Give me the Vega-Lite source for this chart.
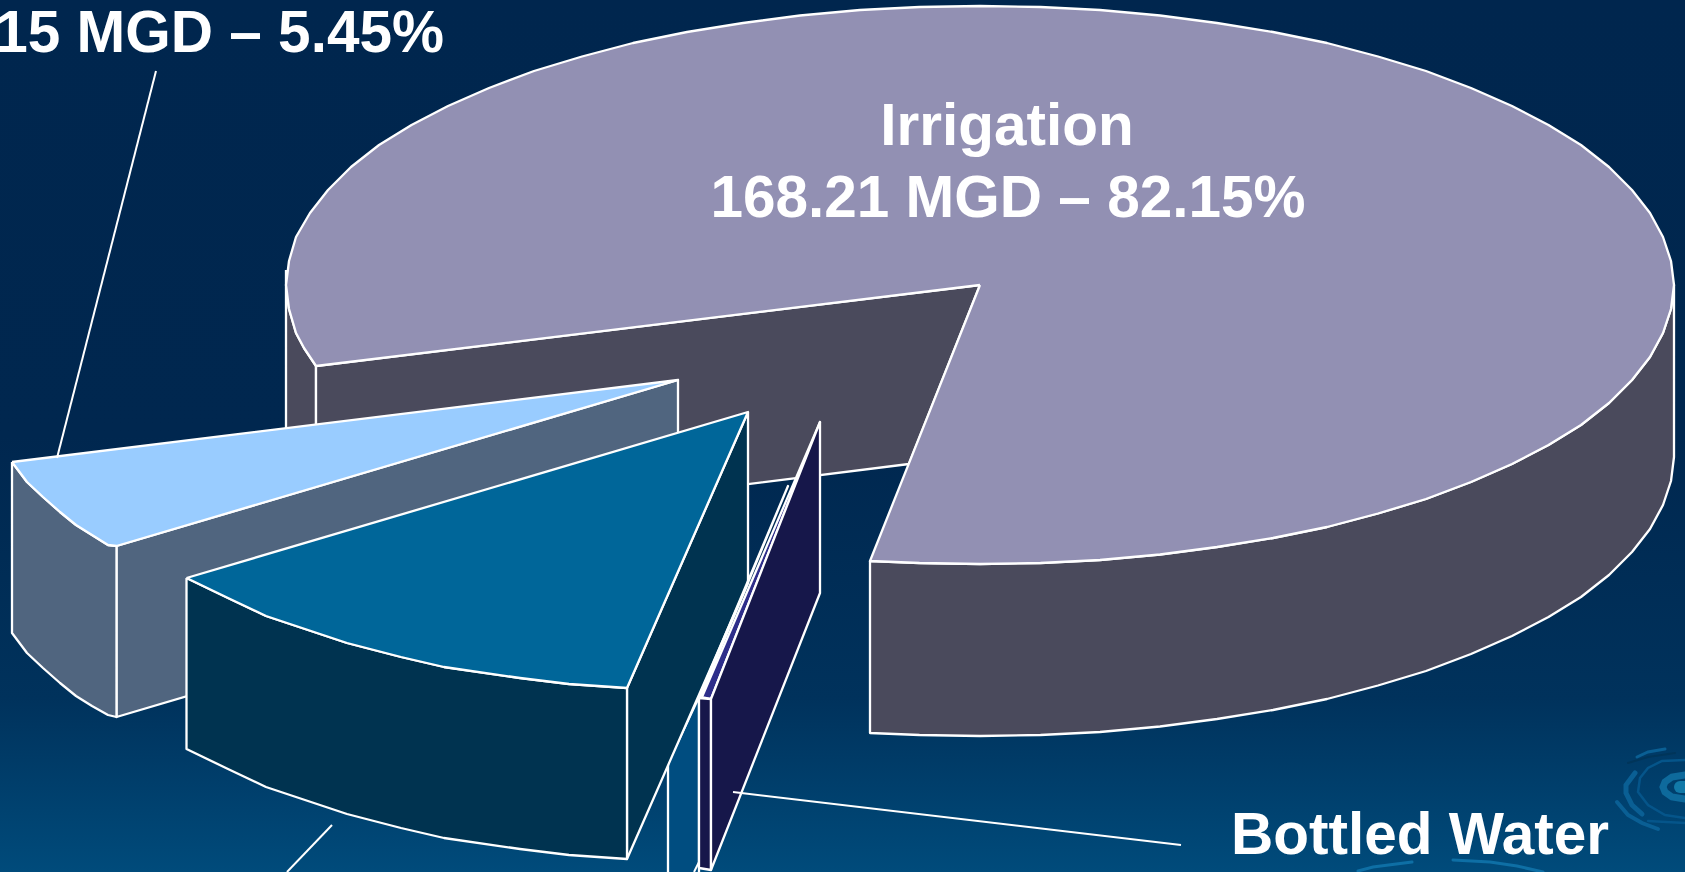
{"$schema":"https://vega.github.io/schema/vega-lite/v6.json","width":1685,"height":872,"padding":0,"autosize":{"type":"none"},"background":"#00264e","view":{"stroke":null},
"datasets":{
"bg":[{"x":0,"x2":1685,"y":0,"y2":872}],
"faces":[
{"part":"irrOuter","i":1,"x":870,"y":561},{"part":"irrOuter","i":1.5,"x":919.5,"y":563},{"part":"irrOuter","i":2,"x":980,"y":564},{"part":"irrOuter","i":2.5,"x":1040.5,"y":563},{"part":"irrOuter","i":3,"x":1100,"y":560},{"part":"irrOuter","i":3.5,"x":1160,"y":554.5},{"part":"irrOuter","i":4,"x":1217,"y":547},{"part":"irrOuter","i":4.5,"x":1273,"y":538},{"part":"irrOuter","i":5,"x":1327,"y":527},{"part":"irrOuter","i":5.5,"x":1378,"y":513.5},{"part":"irrOuter","i":6,"x":1426,"y":499},{"part":"irrOuter","i":6.5,"x":1471,"y":482},{"part":"irrOuter","i":7,"x":1512,"y":464},{"part":"irrOuter","i":7.5,"x":1548.5,"y":445},{"part":"irrOuter","i":8,"x":1581,"y":425},{"part":"irrOuter","i":8.5,"x":1609,"y":403},{"part":"irrOuter","i":9,"x":1632,"y":380},{"part":"irrOuter","i":9.5,"x":1650,"y":357},{"part":"irrOuter","i":10,"x":1663,"y":333},{"part":"irrOuter","i":10.5,"x":1671,"y":309},{"part":"irrOuter","i":11,"x":1674,"y":285},{"part":"irrOuter","i":12,"x":1674,"y":457},{"part":"irrOuter","i":12.5,"x":1671,"y":481},{"part":"irrOuter","i":13,"x":1663,"y":505},{"part":"irrOuter","i":13.5,"x":1650,"y":529},{"part":"irrOuter","i":14,"x":1632,"y":552},{"part":"irrOuter","i":14.5,"x":1609,"y":575},{"part":"irrOuter","i":15,"x":1581,"y":597},{"part":"irrOuter","i":15.5,"x":1548.5,"y":617},{"part":"irrOuter","i":16,"x":1512,"y":636},{"part":"irrOuter","i":16.5,"x":1471,"y":654},{"part":"irrOuter","i":17,"x":1426,"y":671},{"part":"irrOuter","i":17.5,"x":1378,"y":685.5},{"part":"irrOuter","i":18,"x":1327,"y":699},{"part":"irrOuter","i":18.5,"x":1273,"y":710},{"part":"irrOuter","i":19,"x":1217,"y":719},{"part":"irrOuter","i":19.5,"x":1160,"y":726.5},{"part":"irrOuter","i":20,"x":1100,"y":732},{"part":"irrOuter","i":20.5,"x":1040.5,"y":735},{"part":"irrOuter","i":21,"x":980,"y":736},{"part":"irrOuter","i":21.5,"x":919.5,"y":735},{"part":"irrOuter","i":22,"x":870,"y":733},{"part":"irrOuter","i":23,"x":870,"y":561},
{"part":"irrLeft","i":1,"x":286,"y":270},{"part":"irrLeft","i":2,"x":286,"y":285},{"part":"irrLeft","i":2.5,"x":289,"y":309},{"part":"irrLeft","i":3,"x":296,"y":333},{"part":"irrLeft","i":3.5,"x":304,"y":348},{"part":"irrLeft","i":4,"x":316,"y":366},{"part":"irrLeft","i":5,"x":316,"y":538},{"part":"irrLeft","i":6,"x":296,"y":505},{"part":"irrLeft","i":7,"x":286,"y":457},{"part":"irrLeft","i":8,"x":286,"y":270},
{"part":"irrCut","i":1,"x":316,"y":366},{"part":"irrCut","i":2,"x":980,"y":285},{"part":"irrCut","i":3,"x":909,"y":464},{"part":"irrCut","i":4,"x":316,"y":538},{"part":"irrCut","i":5,"x":316,"y":366},
{"part":"irrTop","i":1,"x":980,"y":285},{"part":"irrTop","i":2,"x":870,"y":561},{"part":"irrTop","i":2.5,"x":919.5,"y":563},{"part":"irrTop","i":3,"x":980,"y":564},{"part":"irrTop","i":3.5,"x":1040.5,"y":563},{"part":"irrTop","i":4,"x":1100,"y":560},{"part":"irrTop","i":4.5,"x":1160,"y":554.5},{"part":"irrTop","i":5,"x":1217,"y":547},{"part":"irrTop","i":5.5,"x":1273,"y":538},{"part":"irrTop","i":6,"x":1327,"y":527},{"part":"irrTop","i":6.5,"x":1378,"y":513.5},{"part":"irrTop","i":7,"x":1426,"y":499},{"part":"irrTop","i":7.5,"x":1471,"y":482},{"part":"irrTop","i":8,"x":1512,"y":464},{"part":"irrTop","i":8.5,"x":1548.5,"y":445},{"part":"irrTop","i":9,"x":1581,"y":425},{"part":"irrTop","i":9.5,"x":1609,"y":403},{"part":"irrTop","i":10,"x":1632,"y":380},{"part":"irrTop","i":10.5,"x":1650,"y":357},{"part":"irrTop","i":11,"x":1663,"y":333},{"part":"irrTop","i":11.5,"x":1671,"y":309},{"part":"irrTop","i":12,"x":1674,"y":285},{"part":"irrTop","i":12.5,"x":1671,"y":261},{"part":"irrTop","i":13,"x":1663,"y":237},{"part":"irrTop","i":13.5,"x":1650,"y":213},{"part":"irrTop","i":14,"x":1632,"y":190},{"part":"irrTop","i":14.5,"x":1609,"y":167},{"part":"irrTop","i":15,"x":1581,"y":145},{"part":"irrTop","i":15.5,"x":1548.5,"y":125},{"part":"irrTop","i":16,"x":1512,"y":106},{"part":"irrTop","i":16.5,"x":1471,"y":88},{"part":"irrTop","i":17,"x":1426,"y":71},{"part":"irrTop","i":17.5,"x":1378,"y":56.5},{"part":"irrTop","i":18,"x":1327,"y":43},{"part":"irrTop","i":18.5,"x":1273,"y":32},{"part":"irrTop","i":19,"x":1217,"y":23},{"part":"irrTop","i":19.5,"x":1160,"y":15.5},{"part":"irrTop","i":20,"x":1100,"y":10},{"part":"irrTop","i":20.5,"x":1040.5,"y":7},{"part":"irrTop","i":21,"x":980,"y":6},{"part":"irrTop","i":21.5,"x":919.5,"y":7},{"part":"irrTop","i":22,"x":860,"y":10},{"part":"irrTop","i":22.5,"x":800,"y":15.5},{"part":"irrTop","i":23,"x":743,"y":23},{"part":"irrTop","i":23.5,"x":687,"y":32},{"part":"irrTop","i":24,"x":633,"y":43},{"part":"irrTop","i":24.5,"x":582,"y":56.5},{"part":"irrTop","i":25,"x":534,"y":71},{"part":"irrTop","i":25.5,"x":489,"y":88},{"part":"irrTop","i":26,"x":448,"y":106},{"part":"irrTop","i":26.5,"x":411.5,"y":125},{"part":"irrTop","i":27,"x":379,"y":145},{"part":"irrTop","i":27.5,"x":351,"y":167},{"part":"irrTop","i":28,"x":328,"y":190},{"part":"irrTop","i":28.5,"x":310,"y":213},{"part":"irrTop","i":29,"x":296,"y":237},{"part":"irrTop","i":29.5,"x":289,"y":261},{"part":"irrTop","i":30,"x":286,"y":285},{"part":"irrTop","i":30.5,"x":289,"y":309},{"part":"irrTop","i":31,"x":296,"y":333},{"part":"irrTop","i":31.5,"x":304,"y":348},{"part":"irrTop","i":32,"x":316,"y":366},{"part":"irrTop","i":33,"x":980,"y":285},
{"part":"lightCut","i":1,"x":116.5,"y":546},{"part":"lightCut","i":2,"x":678,"y":380},{"part":"lightCut","i":3,"x":678,"y":551},{"part":"lightCut","i":4,"x":116.5,"y":717},{"part":"lightCut","i":5,"x":116.5,"y":546},
{"part":"lightArc","i":1,"x":12,"y":462},{"part":"lightArc","i":2,"x":27,"y":482},{"part":"lightArc","i":3,"x":43,"y":497},{"part":"lightArc","i":4,"x":60,"y":512},{"part":"lightArc","i":5,"x":76,"y":525},{"part":"lightArc","i":6,"x":92,"y":535},{"part":"lightArc","i":7,"x":108,"y":545},{"part":"lightArc","i":8,"x":116.5,"y":546},{"part":"lightArc","i":9,"x":116.5,"y":717},{"part":"lightArc","i":10,"x":108,"y":715},{"part":"lightArc","i":11,"x":92,"y":706},{"part":"lightArc","i":12,"x":76,"y":696},{"part":"lightArc","i":13,"x":60,"y":683},{"part":"lightArc","i":14,"x":43,"y":668},{"part":"lightArc","i":15,"x":27,"y":653},{"part":"lightArc","i":16,"x":12,"y":633},{"part":"lightArc","i":17,"x":12,"y":462},
{"part":"lightTop","i":1,"x":12,"y":462},{"part":"lightTop","i":2,"x":678,"y":380},{"part":"lightTop","i":3,"x":116.5,"y":546},{"part":"lightTop","i":4,"x":108,"y":545},{"part":"lightTop","i":5,"x":92,"y":535},{"part":"lightTop","i":6,"x":76,"y":525},{"part":"lightTop","i":7,"x":60,"y":512},{"part":"lightTop","i":8,"x":43,"y":497},{"part":"lightTop","i":9,"x":27,"y":482},{"part":"lightTop","i":10,"x":12,"y":462},
{"part":"strip","i":1,"x":668,"y":763},{"part":"strip","i":2,"x":699,"y":697},{"part":"strip","i":3,"x":699,"y":880},{"part":"strip","i":4,"x":668,"y":880},{"part":"strip","i":5,"x":668,"y":763},
{"part":"tealCut","i":1,"x":748,"y":412},{"part":"tealCut","i":2,"x":748,"y":583},{"part":"tealCut","i":3,"x":627,"y":859},{"part":"tealCut","i":4,"x":627,"y":688},{"part":"tealCut","i":5,"x":748,"y":412},
{"part":"tealArc","i":1,"x":186.5,"y":578},{"part":"tealArc","i":2,"x":228,"y":598},{"part":"tealArc","i":3,"x":266,"y":616},{"part":"tealArc","i":4,"x":293,"y":625},{"part":"tealArc","i":5,"x":347,"y":643},{"part":"tealArc","i":6,"x":401,"y":657},{"part":"tealArc","i":7,"x":444,"y":667},{"part":"tealArc","i":8,"x":520,"y":678},{"part":"tealArc","i":9,"x":569,"y":684},{"part":"tealArc","i":10,"x":627,"y":688},{"part":"tealArc","i":11,"x":627,"y":859},{"part":"tealArc","i":12,"x":569,"y":855},{"part":"tealArc","i":13,"x":520,"y":849},{"part":"tealArc","i":14,"x":444,"y":838},{"part":"tealArc","i":15,"x":401,"y":828},{"part":"tealArc","i":16,"x":347,"y":814},{"part":"tealArc","i":17,"x":293,"y":796},{"part":"tealArc","i":18,"x":266,"y":787},{"part":"tealArc","i":19,"x":228,"y":769},{"part":"tealArc","i":20,"x":186.5,"y":749},{"part":"tealArc","i":21,"x":186.5,"y":578},
{"part":"tealTop","i":1,"x":186.5,"y":578},{"part":"tealTop","i":2,"x":748,"y":412},{"part":"tealTop","i":3,"x":627,"y":688},{"part":"tealTop","i":4,"x":569,"y":684},{"part":"tealTop","i":5,"x":520,"y":678},{"part":"tealTop","i":6,"x":444,"y":667},{"part":"tealTop","i":7,"x":401,"y":657},{"part":"tealTop","i":8,"x":347,"y":643},{"part":"tealTop","i":9,"x":293,"y":625},{"part":"tealTop","i":10,"x":266,"y":616},{"part":"tealTop","i":11,"x":228,"y":598},{"part":"tealTop","i":12,"x":186.5,"y":578},
{"part":"thin","i":1,"x":699,"y":697},{"part":"thin","i":2,"x":788,"y":486},{"part":"thin","i":3,"x":701,"y":696},{"part":"thin","i":4,"x":699,"y":697},
{"part":"navyTop","i":1,"x":702,"y":697},{"part":"navyTop","i":2,"x":820,"y":422},{"part":"navyTop","i":3,"x":711,"y":699},{"part":"navyTop","i":4,"x":702,"y":697},
{"part":"navyFront","i":1,"x":699,"y":698},{"part":"navyFront","i":2,"x":711,"y":699},{"part":"navyFront","i":3,"x":711,"y":870},{"part":"navyFront","i":4,"x":699,"y":868},{"part":"navyFront","i":5,"x":699,"y":698},
{"part":"navyCut","i":1,"x":711,"y":699},{"part":"navyCut","i":2,"x":820,"y":422},{"part":"navyCut","i":3,"x":820,"y":593},{"part":"navyCut","i":4,"x":711,"y":870},{"part":"navyCut","i":5,"x":711,"y":699}
],
"strokes":[
{"part":"arcA","i":1,"x":1665,"y":749},{"part":"arcA","i":2,"x":1648,"y":752},{"part":"arcA","i":3,"x":1637,"y":757},
{"part":"darkTop","i":1,"x":1628,"y":763},{"part":"darkTop","i":2,"x":1648,"y":757},{"part":"darkTop","i":3,"x":1675,"y":753},
{"part":"arcB","i":1,"x":1635,"y":773},{"part":"arcB","i":2,"x":1626,"y":785},{"part":"arcB","i":3,"x":1626,"y":793},{"part":"arcB","i":4,"x":1632,"y":805},{"part":"arcB","i":5,"x":1642,"y":814},
{"part":"arcC","i":1,"x":1617,"y":802},{"part":"arcC","i":2,"x":1628,"y":815},{"part":"arcC","i":3,"x":1642,"y":823},{"part":"arcC","i":4,"x":1658,"y":829},
{"part":"arcD","i":1,"x":1685,"y":760},{"part":"arcD","i":2,"x":1662,"y":761},{"part":"arcD","i":3,"x":1648,"y":768},{"part":"arcD","i":4,"x":1640,"y":778},{"part":"arcD","i":5,"x":1638,"y":792},{"part":"arcD","i":6,"x":1648,"y":805},{"part":"arcD","i":7,"x":1665,"y":815},{"part":"arcD","i":8,"x":1685,"y":818},
{"part":"arcE","i":1,"x":1648,"y":821},{"part":"arcE","i":2,"x":1685,"y":823},
{"part":"ring","i":1,"x":1685,"y":775},{"part":"ring","i":2,"x":1672,"y":777},{"part":"ring","i":3,"x":1665,"y":782},{"part":"ring","i":4,"x":1663,"y":787},{"part":"ring","i":5,"x":1665,"y":792},{"part":"ring","i":6,"x":1672,"y":797},{"part":"ring","i":7,"x":1685,"y":799},
{"part":"core","i":1,"x":1685,"y":787},{"part":"core","i":2,"x":1680,"y":787},
{"part":"waveL","i":1,"x":1358,"y":871},{"part":"waveL","i":2,"x":1373,"y":867},{"part":"waveL","i":3,"x":1412,"y":862},
{"part":"waveR","i":1,"x":1453,"y":860},{"part":"waveR","i":2,"x":1490,"y":862},{"part":"waveR","i":3,"x":1517,"y":866},{"part":"waveR","i":4,"x":1543,"y":872},
{"part":"leader1","i":1,"x":156,"y":71},{"part":"leader1","i":2,"x":57,"y":458},
{"part":"leader2","i":1,"x":332,"y":825},{"part":"leader2","i":2,"x":287,"y":872},
{"part":"leader3","i":1,"x":733,"y":792},{"part":"leader3","i":2,"x":1181,"y":845},
{"part":"leader4","i":1,"x":699,"y":862},{"part":"leader4","i":2,"x":694,"y":872}
],
"labels":[
{"label":"Irrigation","x":1007,"y":145},
{"label":"168.21 MGD – 82.15%","x":1008,"y":217},
{"label":"Bottled Water","x":1420,"y":854}
],
"labelsRight":[
{"label":"15 MGD – 5.45%","x":444,"y":52}
]},
"encoding":{
"x":{"field":"x","type":"quantitative","axis":null,"scale":{"domain":[0,1685],"nice":false,"zero":false}},
"y":{"field":"y","type":"quantitative","axis":null,"scale":{"domain":[872,0],"nice":false,"zero":false}}
},
"layer":[
{"data":{"name":"bg"},"mark":{"type":"rect","color":{"gradient":"linear","x1":0,"y1":0,"x2":0,"y2":1,"stops":[{"offset":0,"color":"#00264e"},{"offset":0.5,"color":"#00274f"},{"offset":0.8,"color":"#00325c"},{"offset":1,"color":"#004b7b"}]}},"encoding":{"x2":{"field":"x2"},"y2":{"field":"y2"}}},
{"data":{"name":"faces"},"mark":{"type":"line","filled":true,"stroke":"#ffffff","strokeWidth":2.3,"strokeJoin":"round"},"encoding":{"order":{"field":"i","type":"quantitative"},"fill":{"field":"part","type":"nominal","legend":null,"scale":{"domain":["irrOuter","irrLeft","irrCut","irrTop","lightCut","lightArc","lightTop","strip","tealCut","tealArc","tealTop","thin","navyTop","navyFront","navyCut"],"range":["#4a4a5c","#4a4a5c","#4a4a5c","#9290b3","#50657f","#50657f","#99ccff","#004d80","#003350","#003350","#006699","#1a5c88","#2e2e8a","#16174a","#16174a"]}}}},
{"data":{"name":"strokes"},"transform":[{"filter":{"field":"part","oneOf":["waveL","waveR"]}}],"mark":{"type":"line","strokeCap":"round","stroke":"#0e6fa5","strokeWidth":3},"encoding":{"order":{"field":"i","type":"quantitative"},"detail":{"field":"part"}}},
{"data":{"name":"strokes"},"transform":[{"filter":{"field":"part","oneOf":["arcA"]}}],"mark":{"type":"line","strokeCap":"round","stroke":"#0a5f94","strokeWidth":3},"encoding":{"order":{"field":"i","type":"quantitative"},"detail":{"field":"part"}}},
{"data":{"name":"strokes"},"transform":[{"filter":{"field":"part","oneOf":["arcB"]}}],"mark":{"type":"line","strokeCap":"round","stroke":"#0a5f94","strokeWidth":5},"encoding":{"order":{"field":"i","type":"quantitative"},"detail":{"field":"part"}}},
{"data":{"name":"strokes"},"transform":[{"filter":{"field":"part","oneOf":["arcC"]}}],"mark":{"type":"line","strokeCap":"round","stroke":"#0a5f94","strokeWidth":4},"encoding":{"order":{"field":"i","type":"quantitative"},"detail":{"field":"part"}}},
{"data":{"name":"strokes"},"transform":[{"filter":{"field":"part","oneOf":["arcD","arcE"]}}],"mark":{"type":"line","strokeCap":"round","stroke":"#05558a","strokeWidth":2.5},"encoding":{"order":{"field":"i","type":"quantitative"},"detail":{"field":"part"}}},
{"data":{"name":"strokes"},"transform":[{"filter":{"field":"part","oneOf":["darkTop"]}}],"mark":{"type":"line","strokeCap":"round","stroke":"#00355a","strokeWidth":2},"encoding":{"order":{"field":"i","type":"quantitative"},"detail":{"field":"part"}}},
{"data":{"name":"strokes"},"transform":[{"filter":{"field":"part","oneOf":["ring"]}}],"mark":{"type":"line","strokeCap":"round","stroke":"#0e6a9c","strokeWidth":7},"encoding":{"order":{"field":"i","type":"quantitative"},"detail":{"field":"part"}}},
{"data":{"name":"strokes"},"transform":[{"filter":{"field":"part","oneOf":["core"]}}],"mark":{"type":"line","strokeCap":"round","stroke":"#1279a8","strokeWidth":12},"encoding":{"order":{"field":"i","type":"quantitative"},"detail":{"field":"part"}}},
{"data":{"name":"strokes"},"transform":[{"filter":{"field":"part","oneOf":["leader1","leader2","leader3","leader4"]}}],"mark":{"type":"line","strokeCap":"butt","stroke":"#ffffff","strokeWidth":2},"encoding":{"order":{"field":"i","type":"quantitative"},"detail":{"field":"part"}}},
{"data":{"name":"labels"},"mark":{"type":"text","font":"Liberation Sans","fontWeight":"bold","fontSize":58.5,"color":"#ffffff","baseline":"alphabetic","align":"center"},"encoding":{"text":{"field":"label","type":"nominal"}}},
{"data":{"name":"labelsRight"},"mark":{"type":"text","font":"Liberation Sans","fontWeight":"bold","fontSize":58.5,"color":"#ffffff","baseline":"alphabetic","align":"right"},"encoding":{"text":{"field":"label","type":"nominal"}}}
]}
